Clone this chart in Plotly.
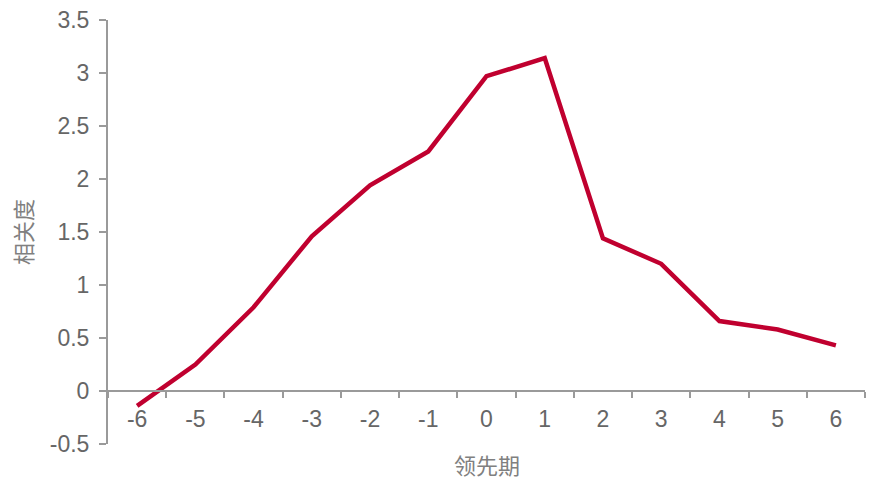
import plotly.graph_objects as go

categories = ["-6", "-5", "-4", "-3", "-2", "-1", "0", "1", "2", "3", "4", "5", "6"]
values = [-0.14, 0.25, 0.79, 1.46, 1.94, 2.26, 2.97, 3.14, 1.44, 1.20, 0.66, 0.58, 0.43]
y_tick_vals = [-0.5, 0, 0.5, 1, 1.5, 2, 2.5, 3, 3.5]
y_tick_text = ["-0.5", "0", "0.5", "1", "1.5", "2", "2.5", "3", "3.5"]
x_title = "领先期"
y_title = "相关度"

ymin, ymax = -0.5, 3.5
font_fam = "Liberation Sans, Arial, sans-serif"
label_color = "#666666"
axis_color = "#9a9a9a"

# page body has an 8px margin; compensate so the plot lands where the reference has it
OFF = 8
L, T, R, B = 108 - OFF, 20 - OFF, 14, 39
W, H = 879 - OFF, 483 - OFF
pw = W - L - R
ph = H - T - B

fig = go.Figure()
fig.add_trace(go.Scatter(
    x=categories, y=values, mode="lines",
    line=dict(color="#C0002F", width=4.5),
    hoverinfo="x+y", showlegend=False,
))

fig.update_layout(
    width=W, height=H,
    margin=dict(l=L, r=R, t=T, b=B, autoexpand=False),
    paper_bgcolor="white", plot_bgcolor="white",
    font=dict(family=font_fam, color=label_color, size=23),
    xaxis=dict(
        type="category", anchor="free", position=(0 - ymin) / (ymax - ymin),
        showline=True, linecolor=axis_color, linewidth=2,
        ticks="outside", tickson="boundaries", ticklen=6, tickcolor=axis_color, tickwidth=2,
        ticklabelstandoff=7, ticklabeloverflow="allow",
        showgrid=False, zeroline=False, automargin=False,
        tickfont=dict(size=23, color=label_color, family=font_fam),
        range=[-0.5, len(categories) - 0.5],
    ),
    yaxis=dict(
        range=[ymin, ymax], tickvals=y_tick_vals, ticktext=y_tick_text,
        showline=True, linecolor=axis_color, linewidth=2,
        ticks="outside", ticklen=7, tickcolor=axis_color, tickwidth=2,
        ticklabelstandoff=5, ticklabeloverflow="allow",
        showgrid=False, zeroline=False, automargin=False,
        tickfont=dict(size=23, color=label_color, family=font_fam),
    ),
    annotations=[
        dict(text=x_title, xref="paper", yref="paper", x=(487 - 108) / pw, y=(444 - 464) / ph,
             xanchor="center", yanchor="middle", showarrow=False,
             font=dict(size=22, color="#808080", family="Noto Sans CJK SC")),
        dict(text=y_title, xref="paper", yref="paper", x=(22 - 108) / pw, y=(444 - 232) / ph,
             xanchor="center", yanchor="middle", showarrow=False, textangle=-90,
             font=dict(size=22, color="#808080", family="Noto Sans CJK SC")),
    ],
)

fig.write_html("out.html")
